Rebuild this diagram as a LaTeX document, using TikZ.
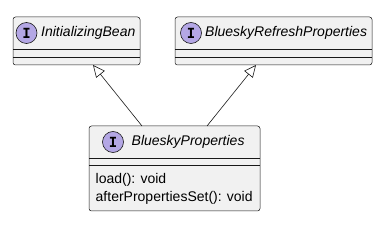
\documentclass[tikz,border=0pt]{standalone}
\usepackage{fontspec}
\setmainfont{Liberation Sans}
\newfontfamily\spotfont{DejaVu Sans Mono}
\usetikzlibrary{arrows.meta,calc}
\definecolor{boxfill}{HTML}{F1F1F1}
\definecolor{boxline}{HTML}{181818}
\definecolor{spot}{HTML}{B4A7E5}
\begin{document}
\begin{tikzpicture}[x=1pt,y=-1pt,
  classbox/.style={draw=boxline,fill=boxfill,line width=0.5pt,rounded corners=2.5pt,inner sep=0pt},
  divider/.style={draw=boxline,line width=0.5pt},
  spotc/.style={circle,draw=boxline,fill=spot,line width=0.6pt,minimum size=21pt,inner sep=0pt,font=\spotfont\fontsize{14}{14}\selectfont\bfseries},
  title/.style={anchor=west,inner sep=0pt,font=\fontsize{14}{16}\selectfont\itshape},
  member/.style={anchor=west,inner sep=0pt,font=\fontsize{14}{16}\selectfont},
  extends/.style={draw=boxline,line width=0.6pt,-{Triangle[open,length=12pt,width=11pt]}}]
\useasboundingbox (0,0) rectangle (388,232);
\node[classbox,minimum width=127pt,minimum height=48pt] (b1) at (76.5,41) {};
\node[classbox,minimum width=197pt,minimum height=48pt] (b2) at (273.5,41) {};
\node[classbox,minimum width=171pt,minimum height=85pt] (b3) at (174.5,168.5) {};
% dividers
\draw[divider] (13,49) -- (140,49);
\draw[divider] (13,57) -- (140,57);
\draw[divider] (175,49) -- (372,49);
\draw[divider] (175,57) -- (372,57);
\draw[divider] (89,158) -- (260,158);
\draw[divider] (89,165) -- (260,165);
% headers
\node[spotc] (s1) at (26.5,33) {I};
\node[title] (t1) at (41,33) {InitializingBean};
\node[spotc] (s2) at (191,33) {I};
\node[title] (t2) at (205,33) {BlueskyRefreshProperties};
\node[spotc] (s3) at (113,142) {I};
\node[title] (t3) at (131.5,142) {BlueskyProperties};
\node[member] (m1) at (95.5,180) {load(): void};
\node[member] (m2) at (95.5,198) {afterPropertiesSet(): void};
% arrows
\coordinate (a1s) at (142,126);
\coordinate (a1e) at (93,65);
\coordinate (a2s) at (207,126);
\coordinate (a2e) at (256,65);
\draw[extends] (a1s) -- (a1e);
\draw[extends] (a2s) -- (a2e);
\end{tikzpicture}
\end{document}
